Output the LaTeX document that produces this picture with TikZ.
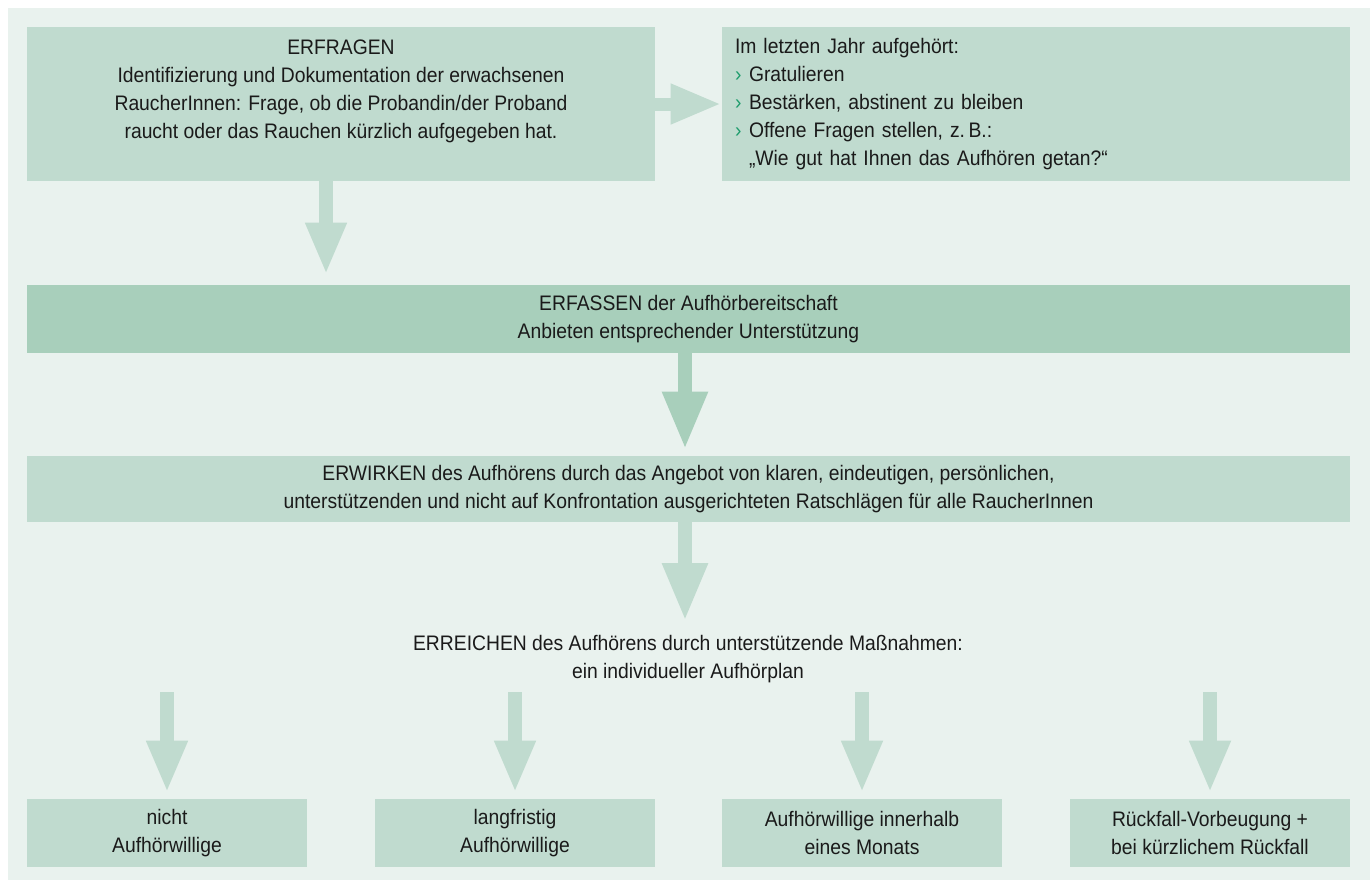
\documentclass[tikz,border=0pt]{standalone}
\usepackage{fontspec}
\setmainfont{Liberation Sans}[FakeStretch=0.92]
\usetikzlibrary{arrows.meta,positioning}
\definecolor{bgmint}{HTML}{E9F2EE}
\definecolor{boxmint}{HTML}{C0DBCF}
\definecolor{darkmint}{HTML}{A8CFBB}
\definecolor{tickgreen}{HTML}{1E9C6C}
\definecolor{inktext}{HTML}{1A1A1A}
\newcommand{\tick}{\makebox[7pt][l]{\textcolor{tickgreen}{›}}}

\begin{document}
\begin{tikzpicture}[x=0.5pt,y=-0.5pt]
    \tikzset{every node/.style={font=\fontsize{10.5}{14}\selectfont,text=inktext},
      box/.style={fill=boxmint,inner sep=0pt,align=center,minimum height=34pt},
      thinarrow/.style={draw=boxmint,line width=7pt,-{Triangle[width=19pt,length=26pt]}},
      thickarrow/.style={line width=7pt,-{Triangle[width=21pt,length=29pt]}},
      sidearrow/.style={draw=boxmint,line width=6.5pt,-{Triangle[width=18.5pt,length=25.5pt]}}}
    \useasboundingbox (0,0) rectangle (1370,880);
    \fill[bgmint] (8,8) rectangle (1370,880);
    % top row
    \node [box,minimum width=314pt,minimum height=77pt,text depth=15pt] (erfragen) at (341,104)
      {ERFRAGEN\\Identifizierung und Dokumentation der erwachsenen\\RaucherInnen: Frage, ob die Probandin/der Proband\\raucht oder das Rauchen kürzlich aufgegeben hat.};
    \node [box,minimum width=314pt,minimum height=77pt,text width=301pt,align=left] (aufgehoert) at (1036,104)
      {Im letzten Jahr aufgehört:\\\tick Gratulieren\\\tick Bestärken, abstinent zu bleiben\\\tick Offene Fragen stellen, z.\,B.:\\\hspace*{7pt}„Wie gut hat Ihnen das Aufhören getan?“};
    % middle
    \node [box,fill=darkmint,minimum width=661.5pt] (erfassen) at (688.5,319)
      {ERFASSEN der Aufhörbereitschaft\\Anbieten entsprechender Unterstützung};
    \node [box,minimum width=661.5pt,minimum height=33pt] (erwirken) at (688.5,489)
      {ERWIRKEN des Aufhörens durch das Angebot von klaren, eindeutigen, persönlichen,\\unterstützenden und nicht auf Konfrontation ausgerichteten Ratschlägen für alle RaucherInnen};
    \node [align=center] (erreichen) at (688,659)
      {ERREICHEN des Aufhörens durch unterstützende Maßnahmen:\\ein individueller Aufhörplan};
    % bottom row
    \node [box,minimum width=140pt] (ziel1) at (167,833)  {nicht\\Aufhörwillige};
    \node [box,minimum width=140pt] (ziel2) at (515,833)  {langfristig\\Aufhörwillige};
    \node [box,minimum width=140pt] (ziel3) at (862,833)  {Aufhörwillige innerhalb\\eines Monats};
    \node [box,minimum width=140pt] (ziel4) at (1210,833) {Rückfall-Vorbeugung +\\bei kürzlichem Rückfall};
    \coordinate (fork) at (0,692);
    % arrows
    \draw[sidearrow] (erfragen.east) -- (aufgehoert.west);
    \draw[thinarrow,shorten >=5pt] (erfragen.south -| 326,0) -- (erfassen.north -| 326,0);
    \draw[thickarrow,draw=darkmint,shorten >=3pt] (erfassen.south -| 685,0) -- (erwirken.north -| 685,0);
    \draw[thickarrow,draw=boxmint,shorten >=3.5pt] (erwirken.south -| 685,0) -- (erreichen.north -| 685,0);
    \foreach \z in {1,...,4}
      \draw[thinarrow,shorten >=3pt] (fork -| ziel\z) -- (ziel\z.north);
\end{tikzpicture}
\end{document}
